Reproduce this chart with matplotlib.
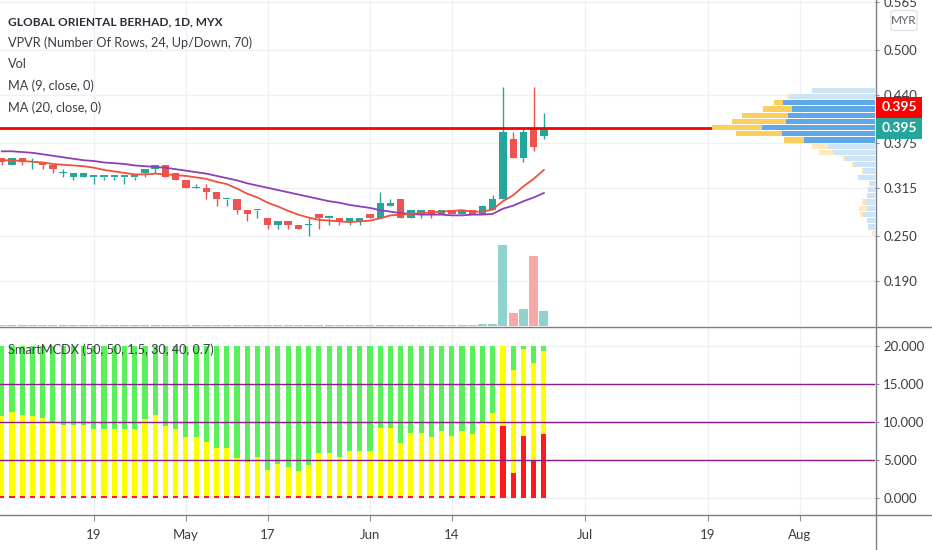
import numpy as np
import matplotlib.pyplot as plt
from matplotlib.lines import Line2D
from matplotlib.patches import Rectangle, FancyBboxPatch

plt.rcParams['font.family'] = ['Lato', 'DejaVu Sans']

W, H = 932, 550

# ---------------- data ----------------
opens = [0.355, 0.345, 0.355, 0.350, 0.350, 0.345, 0.335, 0.330, 0.330, 0.330,
         0.330, 0.330, 0.330, 0.330, 0.335, 0.340, 0.345, 0.335, 0.325, 0.315,
         0.315, 0.310, 0.300, 0.300, 0.285, 0.285, 0.275, 0.265, 0.270, 0.265,
         0.265, 0.280, 0.275, 0.275, 0.270, 0.270, 0.280, 0.275, 0.290, 0.300,
         0.275, 0.280, 0.285, 0.280, 0.285, 0.280, 0.285, 0.280, 0.285, 0.300,
         0.380, 0.355, 0.395, 0.385]
highs = [0.355, 0.355, 0.355, 0.355, 0.350, 0.345, 0.340, 0.335, 0.335, 0.330,
         0.330, 0.330, 0.330, 0.330, 0.340, 0.345, 0.345, 0.335, 0.325, 0.320,
         0.320, 0.310, 0.300, 0.300, 0.285, 0.285, 0.275, 0.270, 0.270, 0.265,
         0.275, 0.280, 0.275, 0.275, 0.275, 0.275, 0.280, 0.310, 0.300, 0.300,
         0.285, 0.285, 0.285, 0.285, 0.285, 0.285, 0.285, 0.290, 0.305, 0.450,
         0.390, 0.395, 0.450, 0.415]
lows = [0.345, 0.345, 0.345, 0.340, 0.340, 0.335, 0.330, 0.325, 0.330, 0.320,
        0.325, 0.325, 0.320, 0.325, 0.330, 0.335, 0.330, 0.325, 0.315, 0.315,
        0.300, 0.290, 0.290, 0.280, 0.270, 0.275, 0.260, 0.260, 0.260, 0.260,
        0.250, 0.260, 0.265, 0.265, 0.265, 0.265, 0.275, 0.275, 0.290, 0.275,
        0.275, 0.275, 0.275, 0.280, 0.280, 0.280, 0.280, 0.280, 0.285, 0.300,
        0.355, 0.350, 0.365, 0.380]
closes = [0.350, 0.355, 0.350, 0.350, 0.345, 0.340, 0.335, 0.335, 0.335, 0.330,
          0.330, 0.330, 0.330, 0.330, 0.340, 0.345, 0.330, 0.325, 0.315, 0.315,
          0.310, 0.300, 0.300, 0.285, 0.280, 0.285, 0.265, 0.270, 0.265, 0.260,
          0.265, 0.275, 0.275, 0.270, 0.275, 0.275, 0.275, 0.295, 0.295, 0.275,
          0.285, 0.285, 0.280, 0.285, 0.280, 0.285, 0.280, 0.290, 0.300, 0.390,
          0.355, 0.390, 0.370, 0.395]
volume = [1.3, 1.3, 1.3, 1.3, 1.3, 1.3, 1.3, 1.3, 1.3, 1.3,
          1.3, 1.3, 1.3, 1.3, 1.3, 1.3, 1.3, 1.3, 1.3, 1.3,
          1.3, 1.3, 1.3, 1.3, 1.3, 1.3, 1.3, 1.3, 1.3, 1.3,
          1.3, 1.3, 1.3, 1.3, 1.3, 1.3, 1.3, 1.3, 1.3, 1.3,
          1.3, 1.3, 1.3, 1.3, 1.3, 1.3, 1.3, 1.6, 2.2, 81.0,
          13.5, 17.0, 70.0, 15.0]
ma9 = [0.352, 0.352, 0.351, 0.350, 0.349, 0.347, 0.346, 0.345, 0.344, 0.342,
       0.339, 0.337, 0.335, 0.333, 0.333, 0.334, 0.333, 0.332, 0.331, 0.329,
       0.327, 0.323, 0.320, 0.314, 0.307, 0.302, 0.295, 0.290, 0.284, 0.279,
       0.275, 0.272, 0.271, 0.270, 0.269, 0.270, 0.271, 0.274, 0.278, 0.279,
       0.280, 0.281, 0.282, 0.283, 0.284, 0.285, 0.283, 0.283, 0.286, 0.297,
       0.305, 0.317, 0.327, 0.339]
ma20 = [0.364, 0.364, 0.363, 0.362, 0.360, 0.358, 0.356, 0.354, 0.352, 0.351,
        0.349, 0.348, 0.347, 0.345, 0.344, 0.343, 0.342, 0.340, 0.338, 0.336,
        0.334, 0.331, 0.328, 0.325, 0.321, 0.318, 0.315, 0.312, 0.309, 0.306,
        0.303, 0.300, 0.297, 0.295, 0.292, 0.290, 0.288, 0.285, 0.283, 0.281,
        0.280, 0.279, 0.279, 0.279, 0.278, 0.278, 0.279, 0.279, 0.280, 0.287,
        0.291, 0.297, 0.302, 0.308]

# VPVR, 24 rows from low to high (relative volume)
vp_up = [0, 7, 8, 12, 8, 10, 8, 7, 6, 17, 12, 22, 30, 42, 47, 71,
         93, 113, 89, 87, 83, 92, 86, 63]
vp_down = [3, 0, 0, 3, 8, 3, 0, 0, 0, 0, 1, 1, 2, 14, 16, 20,
           46, 50, 54, 46, 29, 9, 2, 0]
va_rows = (15, 21)

# SmartMCDX
mcdx_retail = [20.0] * 54
mcdx_hot = [10.75, 11.3, 10.84, 10.8, 10.44, 10.0, 9.57, 9.57, 9.57, 9.0,
            9.0, 9.0, 9.0, 9.0, 10.3, 10.88, 9.43, 9.0, 7.94, 7.94,
            7.37, 6.58, 6.58, 5.18, 4.74, 5.4, 3.64, 4.43, 4.0, 3.55,
            4.3, 5.84, 5.84, 5.4, 6.14, 6.2, 6.2, 9.2, 9.2, 7.15,
            8.47, 8.47, 8.03, 8.77, 8.12, 8.8, 8.38, 9.87, 11.2, 20.0,
            16.8, 19.5, 17.7, 19.3]
mcdx_banker = [0.25] * 49 + [9.43, 3.3, 8.16, 4.96, 8.34]
mcdx_levels = [5, 10, 15]

hline_level = 0.395
price_ticks = [0.565, 0.500, 0.440, 0.375, 0.315, 0.250, 0.190]
mcdx_ticks = [0, 5, 10, 15, 20]
date_pos = [9, 18, 26, 36, 44, 57, 69, 78]
date_labels = ['19', 'May', '17', 'Jun', '14', 'Jul', '19', 'Aug']

UP, DOWN = '#26a69a', '#ef5350'
GRID = '#eef0f5'
AXC = '#8a8d96'
TXT = '#3b3e45'

x = np.arange(len(closes))
o, h, l, c = map(np.array, (opens, highs, lows, closes))
up = c >= o
cols = np.where(up, UP, DOWN)

fig = plt.figure(figsize=(W / 100, H / 100), dpi=100)
fig.patch.set_facecolor('white')


def rect(x0, y0, x1, y1):
    return [x0 / W, 1 - y1 / H, (x1 - x0) / W, (y1 - y0) / H]


ax = fig.add_axes(rect(0, 0, 875, 326))
axm = fig.add_axes(rect(0, 327, 875, 515), sharex=ax)
ax.set_xlim(-0.17, 85.37)
ax.set_ylim(0.1295, 0.5671)
axm.set_ylim(-2.28, 22.46)

for a in (ax, axm):
    for s in a.spines.values():
        s.set_visible(False)
    a.set_xticks(date_pos)
    a.grid(True, color=GRID, lw=1)
    a.set_axisbelow(True)
    a.yaxis.tick_right()
    a.tick_params(axis='y', right=True, length=3, color=AXC, labelsize=9.5,
                  labelcolor=TXT, pad=3)

ax.tick_params(axis='x', bottom=False, labelbottom=False)
axm.set_xticklabels(date_labels)
axm.tick_params(axis='x', length=4, color=AXC, labelsize=9.5, labelcolor=TXT, pad=6)

ax.set_yticks(price_ticks)
ax.set_yticklabels(['%.3f' % p for p in price_ticks])
axm.set_yticks(mcdx_ticks)
axm.set_yticklabels(['%.3f' % v for v in mcdx_ticks])

# candles
ax.vlines(x, l, h, colors=cols, lw=1, zorder=3)
ax.bar(x, np.maximum(np.abs(c - o), 0.0016), bottom=np.minimum(o, c), width=0.72,
       color=cols, zorder=4)

ax.plot(x, ma20, color='#8e3fb5', lw=1.3, zorder=5)
ax.plot(x, ma9, color='#f0503c', lw=1.3, zorder=5)

# volume overlay
axv = fig.add_axes(rect(0, 0, 875, 326), sharex=ax)
axv.set_ylim(0, max(volume) * 326 / 81)
axv.bar(x, volume, width=0.88, color=np.where(up, '#92d2cc', '#f7a9a8'))
axv.axis('off')
axv.patch.set_visible(False)

# VPVR overlay
axp = fig.add_axes(rect(0, 0, 875, 326), sharey=ax)
vt = np.array(vp_up) + np.array(vp_down)
axp.set_xlim(vt.max() * 875 / 163, 0)
lo, hi = min(lows), max(highs)
step = (hi - lo) / len(vp_up)
centers = lo + step * (np.arange(len(vp_up)) + 0.5)
in_va = (np.arange(len(vp_up)) >= va_rows[0]) & (np.arange(len(vp_up)) <= va_rows[1])
axp.barh(centers, vp_up, height=step * 0.84, left=0,
         color=np.where(in_va, '#5ea8e8', '#cde3f6'))
axp.barh(centers, vp_down, height=step * 0.84, left=vp_up,
         color=np.where(in_va, '#fccf5c', '#fde9bd'))
axp.axis('off')
axp.patch.set_visible(False)

ax.axhline(hline_level, color='#ff0000', lw=2, zorder=6)

# SmartMCDX
axm.bar(x, mcdx_retail, width=0.5, color='#5af05a', zorder=2)
axm.bar(x, mcdx_hot, width=0.5, color='#ffff00', zorder=3)
axm.bar(x, mcdx_banker, width=0.5, color='#ff1a1a', zorder=4)
for lv in mcdx_levels:
    axm.axhline(lv, color='#8b1a8b', lw=1, zorder=5)

# frame lines
for xs, ys in (([0, W], [326.5, 326.5]), ([0, W], [515, 515]), ([875.5, 875.5], [0, H])):
    fig.add_artist(Line2D([v / W for v in xs], [1 - v / H for v in ys],
                          color='#7d7f86', lw=1))

# legend texts
fig.text(8 / W, 1 - 21.5 / H, 'GLOBAL ORIENTAL BERHAD, 1D, MYX', fontsize=8.6,
         fontweight='bold', color='#2a2e39', va='center')
for yy, t in ((42.5, 'VPVR (Number Of Rows, 24, Up/Down, 70)'), (64, 'Vol'),
              (86, 'MA (9, close, 0)'), (107.5, 'MA (20, close, 0)')):
    fig.text(8 / W, 1 - yy / H, t, fontsize=9.2, color=TXT, va='center')
fig.text(8 / W, 1 - 350 / H, 'SmartMCDX (50, 50, 1.5, 30, 40, 0.7)', fontsize=9.2,
         color=TXT, va='center', zorder=10)

# price labels on the axis
ydisp = ax.transData.transform((0, closes[-1]))[1]
for yc, fc in ((ydisp + 21, '#ff0000'), (ydisp, UP)):
    fig.add_artist(Rectangle((876 / W, (yc - 10.5) / H), 46 / W, 21 / H,
                             transform=fig.transFigure, fc=fc, ec='none', zorder=5))
    fig.text(899 / W, yc / H, '%.3f' % closes[-1], color='white', fontsize=10,
             fontweight='bold', ha='center', va='center', zorder=6)

fig.add_artist(FancyBboxPatch((891 / W, 1 - 30.5 / H), 26 / W, 20 / H,
                              boxstyle='round,pad=0,rounding_size=0.004',
                              transform=fig.transFigure, fc='white', ec='#dfe1e6',
                              lw=1, zorder=5))
fig.text(904 / W, 1 - 20.5 / H, 'MYR', color='#5d606b', fontsize=8.5,
         ha='center', va='center', zorder=6)

fig.savefig('out.png', dpi=100, facecolor='white')
